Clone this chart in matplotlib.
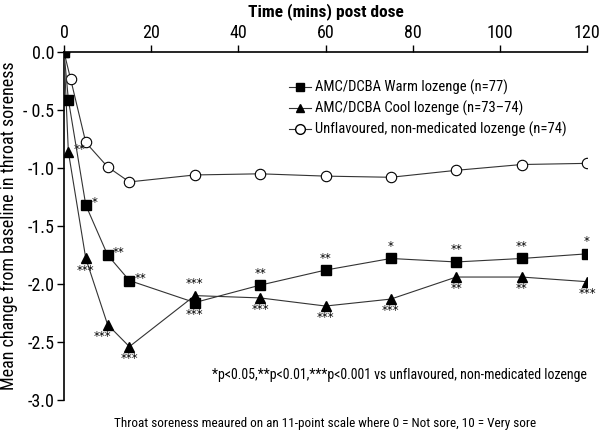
import matplotlib.pyplot as plt
from matplotlib.lines import Line2D

plt.rcParams['font.family'] = ['Roboto Condensed', 'DejaVu Sans']

# time points (mins) and mean change from baseline
t_warm = [0, 1, 5, 10, 15, 30, 45, 60, 75, 90, 105, 120]
warm = [0.0, -0.41, -1.32, -1.75, -1.97, -2.16, -2.01, -1.88, -1.78, -1.81, -1.78, -1.74]
warm_sig = ['', '', '*', '**', '**', '***', '**', '**', '*', '**', '**', '*']

t_cool = [0, 1, 5, 10, 15, 30, 45, 60, 75, 90, 105, 120]
cool = [0.0, -0.86, -1.78, -2.35, -2.54, -2.10, -2.12, -2.19, -2.13, -1.94, -1.94, -1.98]
cool_sig = ['', '**', '***', '***', '***', '***', '***', '***', '***', '**', '**', '***']

t_plac = [0, 1.5, 5, 10, 15, 30, 45, 60, 75, 90, 105, 120]
plac = [0.0, -0.23, -0.78, -0.99, -1.12, -1.06, -1.05, -1.07, -1.08, -1.02, -0.97, -0.96]

labels = ['AMC/DCBA Warm lozenge (n=77)',
          'AMC/DCBA Cool lozenge (n=73\u201374)',
          'Unflavoured, non-medicated lozenge (n=74)']

x_ticks = [0, 20, 40, 60, 80, 100, 120]
y_ticks = [0.0, -0.5, -1.0, -1.5, -2.0, -2.5, -3.0]
y_ticklabels = ['0.0', '- 0.5', '-1.0', '-1.5', '-2.0', '-2.5', '-3.0']

fig = plt.figure(figsize=(6, 4.33), dpi=100)
ax = fig.add_axes([64 / 600, 1 - 400 / 433, 523 / 600, 348 / 433])

lc = '#333333'
ax.plot(t_plac, plac, color=lc, lw=0.8, marker='o', ms=7.5, mfc='white',
        mec='black', mew=0.8, zorder=2)
ax.plot(t_cool, cool, color=lc, lw=0.8, marker='^', ms=7, mfc='black',
        mec='black', zorder=3)
ax.plot(t_warm, warm, color=lc, lw=0.8, marker='s', ms=7.5, mfc='black',
        mec='black', zorder=4)

# where each significance mark sits relative to its point
warm_pos = ['', '', 'right', 'right', 'right', 'below', 'above', 'above',
            'above', 'above', 'above', 'above']
cool_pos = ['', 'right', 'below', 'belowleft', 'below', 'above', 'below',
            'below', 'below', 'below', 'below', 'below']
offs = {'right': (4, -3), 'below': (0, -13), 'above': (0, 4), 'belowleft': (-4, -13)}

def mark(ts, ys, sigs, poss):
    for t, y, s, p in zip(ts, ys, sigs, poss):
        if not s:
            continue
        dx, dy = offs[p]
        ha = 'left' if p == 'right' else 'center'
        ax.annotate(s, (t, y), xytext=(dx, dy), textcoords='offset points',
                    ha=ha, va='bottom', fontsize=8.5, family='DejaVu Sans')

mark(t_warm, warm, warm_sig, warm_pos)
mark(t_cool, cool, cool_sig, cool_pos)

ax.set_xlim(0, 120)
ax.set_ylim(-3.0, 0.0)
ax.xaxis.tick_top()
ax.xaxis.set_label_position('top')
ax.set_xticks(x_ticks)
ax.set_yticks(y_ticks)
ax.set_yticklabels(y_ticklabels)
ax.tick_params(labelsize=13, width=1, length=5, direction='out', pad=2)
for s in ['right', 'bottom']:
    ax.spines[s].set_visible(False)
for s in ['top', 'left']:
    ax.spines[s].set_linewidth(1.2)
ax.set_xlabel('Time (mins) post dose', fontsize=12.5, fontweight='bold', labelpad=6)
ax.set_ylabel('Mean change from baseline in throat soreness', fontsize=13, labelpad=4)

handles = [
    Line2D([], [], color=lc, lw=0.8, marker='s', ms=6, mfc='black', mec='black'),
    Line2D([], [], color=lc, lw=0.8, marker='^', ms=6, mfc='black', mec='black'),
    Line2D([], [], color=lc, lw=0.8, marker='o', ms=7, mfc='white', mec='black'),
]
ax.legend(handles, labels, loc='upper left', bbox_to_anchor=(0.43, 0.92),
          frameon=False, fontsize=10.5, handlelength=1.5, handletextpad=0.3,
          labelspacing=0.4, borderpad=0, borderaxespad=0)

fig.text(587 / 600, 1 - 375 / 433,
         '*p<0.05,**p<0.01,***p<0.001 vs unflavoured, non-medicated lozenge',
         ha='right', va='center', fontsize=10)
fig.text(325 / 600, 1 - 423 / 433,
         'Throat soreness meaured on an 11-point scale where 0 = Not sore, 10 = Very sore',
         ha='center', va='center', fontsize=9.5)

fig.savefig('out.png', dpi=100)
